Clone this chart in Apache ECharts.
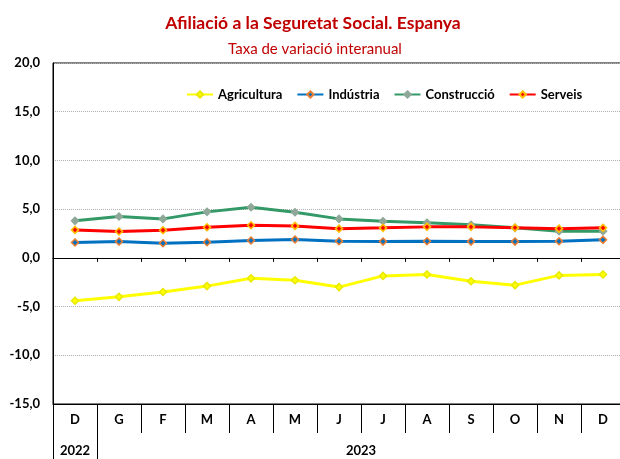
<!DOCTYPE html>
<html>
<head>
<meta charset="utf-8">
<script src="https://cdn.jsdelivr.net/npm/echarts@6/dist/echarts.min.js"></script>
<style>
  html, body { margin: 0; padding: 0; background: #fff; overflow: hidden; }
  body { width: 620px; height: 459px; }
  #chart { width: 630px; height: 459px; }
</style>
</head>
<body>
<div id="chart"></div>
<script>
// mesos (des. 2022 - des. 2023)
var months = ['D', 'G', 'F', 'M', 'A', 'M', 'J', 'J', 'A', 'S', 'O', 'N', 'D'];
var years = ['2022', '', '', '', '', '', '2023', '', '', '', '', '', ''];

var agricultura = [-4.4, -4.0, -3.5, -2.9, -2.1, -2.3, -3.0, -1.85, -1.7, -2.4, -2.8, -1.8, -1.7];
var industria = [1.57, 1.67, 1.5, 1.6, 1.78, 1.88, 1.7, 1.67, 1.7, 1.67, 1.67, 1.7, 1.85];
var construccio = [3.8, 4.24, 4.0, 4.72, 5.2, 4.68, 4.0, 3.76, 3.6, 3.39, 3.08, 2.73, 2.73];
var serveis = [2.87, 2.7, 2.83, 3.14, 3.35, 3.28, 3.0, 3.08, 3.18, 3.18, 3.1, 3.0, 3.08];

var font = 'Lato';
var myChart = echarts.init(document.getElementById('chart'));

function serie(name, data, lineColor, fill, border) {
    return {
        name: name,
        type: 'line',
        xAxisIndex: 0,
        data: data,
        symbol: 'diamond',
        symbolSize: 7,
        showAllSymbol: true,
        lineStyle: { color: lineColor, width: 3 },
        itemStyle: { color: fill, borderColor: border, borderWidth: 1.5 },
        emphasis: { disabled: true },
        animation: false
    };
}

var option = {
    backgroundColor: '#fff',
    textStyle: { fontFamily: font },
    title: [{
        text: 'Afiliació a la Seguretat Social. Espanya',
        left: 308, top: 9, textAlign: 'center',
        textStyle: { color: '#C00000', fontSize: 17.5, fontWeight: 'bold', fontFamily: font }
    }, {
        text: 'Taxa de variació interanual',
        left: 310, top: 37, textAlign: 'center',
        textStyle: { color: '#C00000', fontSize: 15, fontWeight: 'normal', fontFamily: font }
    }],
    legend: {
        left: 181, top: 83,
        itemWidth: 26, itemHeight: 8, itemGap: 14,
        textStyle: { fontSize: 13, fontWeight: 'bold', color: '#000', fontFamily: font },
        data: ['Agricultura', 'Indústria', 'Construcció', 'Serveis']
    },
    grid: {
        left: 53, top: 63, width: 572, height: 341,
        show: true, borderColor: '#000', borderWidth: 1
    },
    xAxis: [{
        type: 'category', data: months,
        axisLine: { onZero: true, lineStyle: { color: '#000', width: 1 } },
        axisTick: { show: true, length: 4, lineStyle: { color: '#000' } },
        axisLabel: { show: false }
    }, {
        type: 'category', data: months, position: 'bottom',
        axisLine: { onZero: false, lineStyle: { color: '#000', width: 1 } },
        axisTick: { show: true, length: 29, lineStyle: { color: '#000' } },
        axisLabel: { margin: 9, fontSize: 13, fontWeight: 'bold', color: '#000', fontFamily: font }
    }, {
        type: 'category', data: years, position: 'bottom', offset: 29,
        axisLine: { show: false, onZero: false },
        axisTick: {
            show: true, length: 26, lineStyle: { color: '#000' },
            interval: function (i) { return i === 0 || i === 1; }
        },
        axisLabel: {
            interval: 0, margin: 11, fontSize: 13, fontWeight: 'bold', color: '#000', fontFamily: font,
            formatter: function (v, i) { return i === 6 ? '{s|' + v + '}' : v; },
            rich: { s: { padding: [0, 0, 0, 44], fontSize: 13, fontWeight: 'bold', color: '#000', fontFamily: font } }
        }
    }],
    yAxis: {
        type: 'value', min: -15, max: 20, interval: 5,
        axisLine: { show: true, lineStyle: { color: '#000', width: 1 } },
        axisTick: { show: false },
        splitLine: { lineStyle: { color: '#b0b0b0', type: 'dotted', width: 1 } },
        axisLabel: {
            margin: 13, fontSize: 13, fontWeight: 'bold', color: '#000', fontFamily: font,
            formatter: function (v) { return v.toFixed(1).replace('.', ','); }
        }
    },
    series: [
        serie('Agricultura', agricultura, '#FFFF00', '#FFFF00', '#E8E800'),
        serie('Indústria', industria, '#0070C0', '#0070C0', '#ED7D31'),
        serie('Construcció', construccio, '#339966', '#8FA898', '#8FA898'),
        serie('Serveis', serveis, '#FF0000', '#FF0000', '#FFC000')
    ]
};
myChart.setOption(option);
</script>
</body>
</html>
